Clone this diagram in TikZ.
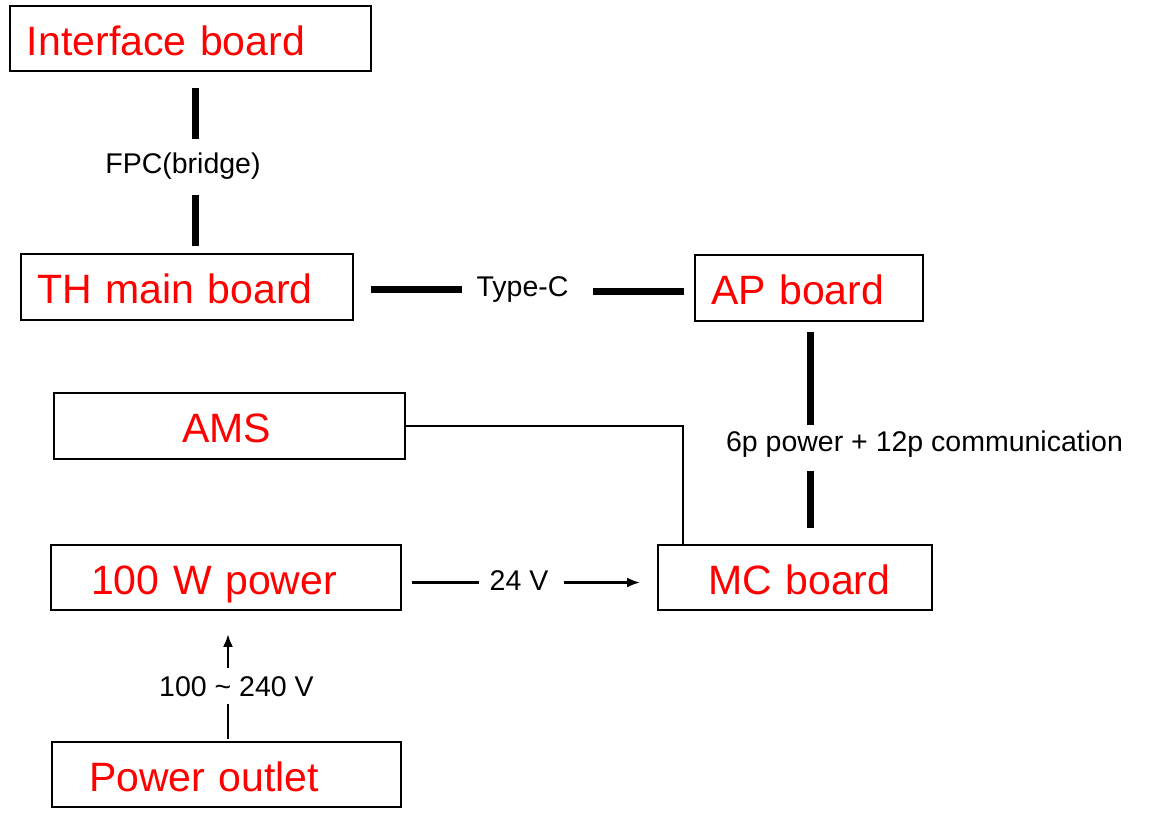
\documentclass[tikz,border=0pt]{standalone}
\usepackage{fontspec}
\setmainfont{Liberation Sans}
\usetikzlibrary{arrows.meta}
\definecolor{boxred}{RGB}{255,0,0}
\newcommand{\bt}[1]{\mbox{#1}}
\tikzset{
  board/.style={draw=black, line width=1.8pt, rectangle, text=boxred, align=left,
    font=\fontsize{41}{48}\selectfont, inner ysep=0pt, text height=33pt, text depth=0pt},
  lbl/.style={inner sep=0pt, font=\fontsize{28.5}{34}\selectfont},
  thk/.style={line width=7pt},
  thn/.style={line width=2.5pt},
  arr/.style={line width=2.5pt, -{Latex[length=13pt,width=10pt]}}
}
\begin{document}
\begin{tikzpicture}[x=1pt,y=-1pt]
\useasboundingbox (0,0) rectangle (1154,825);
% boards
\node[board, minimum width=361pt, minimum height=65pt, text width=327pt] (ifb) at (190.5,38.5) {\bt{Interface board}};
\node[board, minimum width=332pt, minimum height=66pt, text width=300pt] (th) at (187,287) {\bt{TH main board}};
\node[board, minimum width=228pt, minimum height=66pt, text width=196pt] (ap) at (809,288) {\bt{AP board}};
\node[board, minimum width=351pt, minimum height=66pt, text width=95pt] (ams) at (229.5,426) {\bt{AMS}};
\node[board, minimum width=350pt, minimum height=65pt, text width=270pt] (pw) at (226,577.5) {\bt{100 W power}};
\node[board, minimum width=274pt, minimum height=65pt, text width=174pt] (mc) at (795,577.5) {\bt{MC board}};
\node[board, minimum width=349pt, minimum height=65pt, text width=275pt] (po) at (226.5,774.5) {\bt{Power outlet}};
% labels
\node[lbl] (fpc) at (183,166) {FPC(bridge)};
\node[lbl] (typec) at (522.5,290) {Type-C};
\node[lbl] (sixp) at (924.5,444) {6p power + 12p communication};
\node[lbl] (v24) at (519,581) {24 V};
\node[lbl] (vac) at (236.5,687) {100 \textasciitilde{} 240 V};
% FPC
\draw[thk] ([xshift=4.5pt,yshift=-16pt]ifb.south) -- ([xshift=4.5pt,yshift=-67pt]ifb.south);
\draw[thk] ([xshift=8pt,yshift=7pt]th.north) -- ([xshift=8pt,yshift=58pt]th.north);
% Type-C
\draw[thk] ([xshift=17pt,yshift=-2pt]th.east) -- ++(91,0);
\draw[thk] ([xshift=-10pt,yshift=-3pt]ap.west) -- ++(-91,0);
% AP - MC
\draw[thk] ([xshift=1pt,yshift=-10pt]ap.south) -- ++(0,93);
\draw[thk] ([xshift=15pt,yshift=16pt]mc.north) -- ++(0,-57);
% AMS - MC
\draw[thn] (ams.east) -| ([xshift=-112pt,yshift=-1pt]mc.north);
% 24 V
\draw[thn] ([xshift=10pt,yshift=-5pt]pw.east) -- ++(67,0);
\draw[arr] ([xshift=-93pt,yshift=-5pt]mc.west) -- ([xshift=-17pt,yshift=-5pt]mc.west);
% 100 ~ 240 V
\draw[thn] ([xshift=1.5pt,yshift=2pt]po.north) -- ++(0,-35);
\draw[arr] ([xshift=2pt,yshift=-57pt]pw.south) -- ([xshift=2pt,yshift=-23pt]pw.south);
\end{tikzpicture}
\end{document}
